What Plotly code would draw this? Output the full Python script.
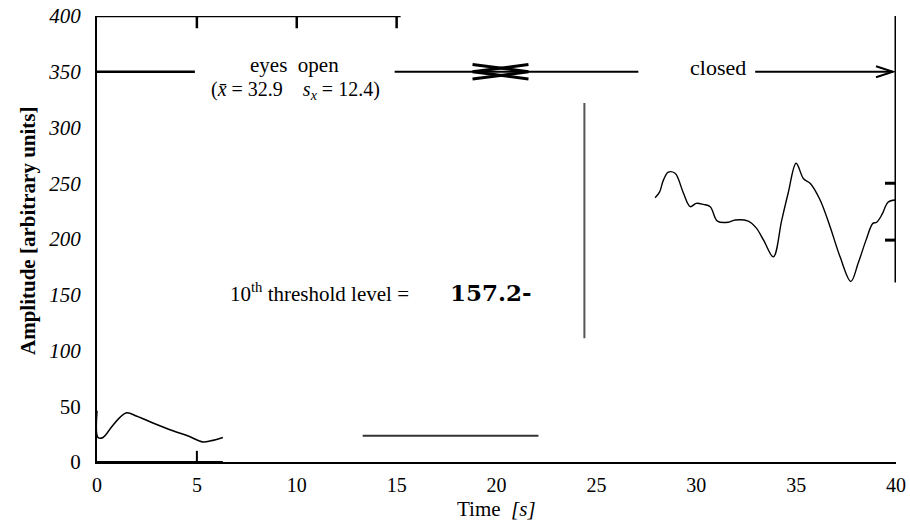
import plotly.graph_objects as go

# ---- data ----
open_t = [0.0, 0.05, 0.3, 0.8, 1.45, 2.0, 2.8, 3.8, 4.6, 5.3, 5.7, 6.3]
open_amp = [46, 22, 22, 33, 44, 41, 35, 28, 23, 18, 19, 22]

closed_t = [27.94, 28.16, 28.36, 28.6, 28.94, 29.1, 29.36, 29.7, 30.0, 30.36, 30.7,
            31.06, 31.6, 31.95, 32.6, 33.0, 33.37, 33.86, 34.28, 34.6, 35.0, 35.37,
            35.7, 36.2, 36.7, 37.2, 37.74, 38.1, 38.5, 38.84, 39.03, 39.3, 39.6, 39.96]
closed_amp = [237, 242, 253, 260, 259, 254, 241, 229, 232, 231, 229,
              216, 215, 217, 216, 210, 199, 184, 217, 241, 268, 254,
              250, 235, 211, 184, 162, 178, 199, 214, 215, 222, 233, 235]

x_ticks = [0, 5, 10, 15, 20, 25, 30, 35, 40]
y_ticks = [0, 50, 100, 150, 200, 250, 300, 350, 400]
y_tick_text = ["0", "50", "<i>100</i>", "<i>150</i>", "<i>200</i>", "<i>250</i>",
               "<i>300</i>", "<i>350</i>", "<i>400</i>"]

threshold_value = 157.2
mean_open = 32.9
sd_open = 12.4

SERIF = "Liberation Serif"

fig = go.Figure()
fig.add_trace(go.Scatter(x=open_t, y=open_amp, mode="lines",
                         line=dict(color="black", width=1.6), line_shape="spline",
                         showlegend=False, hoverinfo="skip"))
fig.add_trace(go.Scatter(x=closed_t, y=closed_amp, mode="lines",
                         line=dict(color="black", width=1.4), line_shape="spline",
                         showlegend=False, hoverinfo="skip"))

# ---- decorative segments (x0, y0, x1, y1, width, color) ----
segments = [
    (0, 400, 15.2, 400, 2.5, "black"),
    (5, 400, 5, 389, 2.5, "black"),
    (10, 400, 10, 389, 2.5, "black"),
    (15, 400, 15, 389, 2.5, "black"),
    (0, 350, 4.9, 350, 2.5, "black"),
    (14.9, 350, 27.1, 350, 2, "black"),
    (32.95, 350, 39.85, 350, 2, "black"),
    (40, 161, 40, 401, 3, "black"),
    (39.45, 250, 40, 250, 3, "black"),
    (39.45, 199, 40, 199, 3, "black"),
    (24.4, 111, 24.4, 322, 2, "#555555"),
    (13.3, 23.6, 22.1, 23.6, 2, "#333333"),
    (0, -1, 6.3, -1, 4, "black"),
    (5, 0, 5, 10, 2, "black"),
]
shapes = []
for x0, y0, x1, y1, w, c in segments:
    shapes.append(dict(type="line", xref="x", yref="y", x0=x0, y0=y0, x1=x1, y1=y1,
                       line=dict(color=c, width=w), layer="above"))

# chevrons / arrowheads (as paths in data coords)
chevrons = [
    "M 18.8 356.5 L 21.6 350 L 18.8 343.5",
    "M 21.6 356.5 L 18.8 350 L 21.6 343.5",
    "M 39.0 355 L 39.85 350 L 39.0 345",
]
for i, p in enumerate(chevrons):
    shapes.append(dict(type="path", xref="x", yref="y", path=p,
                       line=dict(color="black", width=3 if i < 2 else 2)))

annotations = [
    dict(x=9.9, y=356, text="eyes  open", showarrow=False,
         font=dict(family=SERIF, size=21, color="black")),
    dict(x=9.95, y=333, text=f"(<i>x̄</i> = {mean_open}    <i>s<sub>x</sub></i> = {sd_open})",
         showarrow=False, font=dict(family=SERIF, size=20, color="black")),
    dict(x=31.1, y=354, text="closed", showarrow=False,
         font=dict(family=SERIF, size=22, color="black")),
    dict(x=6.56, y=152, xanchor="left", text="10<sup>th</sup> threshold level =",
         showarrow=False, font=dict(family=SERIF, size=21, color="black")),
    dict(x=17.55, y=152, xanchor="left", text=f"<b>{threshold_value}-</b>",
         showarrow=False, font=dict(family="DejaVu Serif", size=23, color="black")),
    dict(xref="paper", yref="paper", x=-0.104, y=0.52, text="<b>Amplitude [arbitrary units]</b>",
         textangle=-90, showarrow=False, font=dict(family=SERIF, size=21, color="black")),
    dict(xref="paper", yref="paper", x=0.5, y=-0.105, yanchor="middle",
         text="Time  <i>[s]</i>", showarrow=False,
         font=dict(family=SERIF, size=21, color="black")),
]

fig.update_layout(
    template="none",
    width=910, height=526,
    margin=dict(l=97, r=14, t=16, b=64),
    paper_bgcolor="white", plot_bgcolor="white",
    shapes=shapes, annotations=annotations,
    showlegend=False,
    xaxis=dict(range=[0, 40], tickvals=x_ticks, ticktext=[str(v) for v in x_ticks],
               showgrid=False, zeroline=False, showline=True, linecolor="black",
               linewidth=2, ticks="", ticklabelstandoff=4, automargin=False,
               tickfont=dict(family=SERIF, size=20, color="black")),
    yaxis=dict(range=[0, 400], tickvals=y_ticks, ticktext=y_tick_text,
               showgrid=False, zeroline=False, showline=True, linecolor="black",
               linewidth=2, ticks="", ticklabelstandoff=10, automargin=False,
               tickfont=dict(family=SERIF, size=21, color="black")),
)

fig.write_html("out.html")
